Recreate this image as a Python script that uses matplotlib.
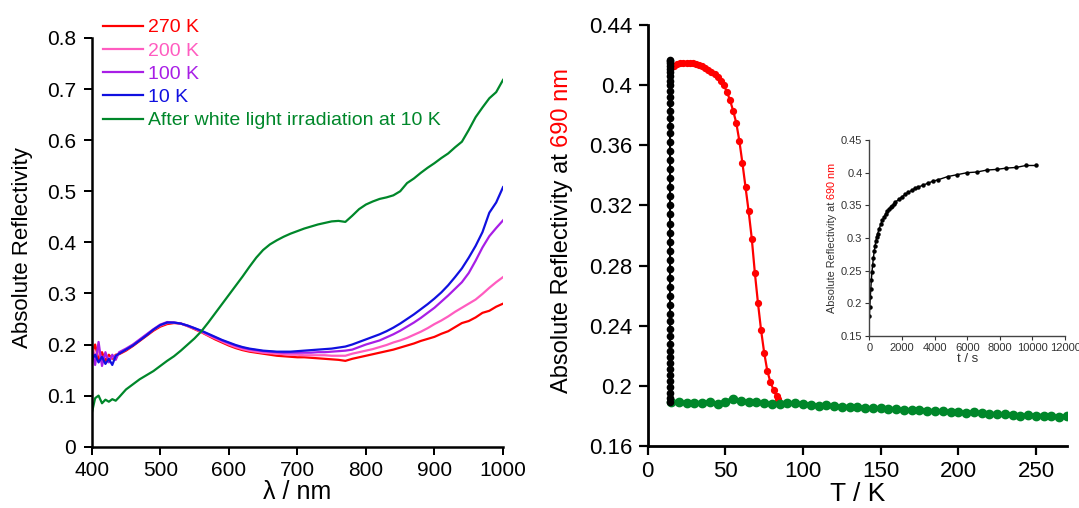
import numpy as np
import matplotlib
matplotlib.use("Agg")
import matplotlib.pyplot as plt
from matplotlib.ticker import FuncFormatter, MultipleLocator

# --- left panel: reflectivity spectra ---
wavelength = [400, 405, 410, 415, 420, 425, 430, 435, 440,
              450, 460, 470, 480, 490, 500, 510, 520, 530, 540,
              550, 560, 570, 580, 590, 600, 610, 620, 630, 640,
              650, 660, 670, 680, 690, 700, 710, 720, 730, 740,
              750, 760, 770, 780, 790, 800, 810, 820, 830, 840,
              850, 860, 870, 880, 890, 900, 910, 920, 930, 940,
              950, 960, 970, 980, 990, 1000]

r_270K = [0.180, 0.200, 0.170, 0.185, 0.168, 0.180, 0.172, 0.180, 0.181,
          0.188, 0.197, 0.207, 0.217, 0.227, 0.235, 0.240, 0.242, 0.241, 0.236,
          0.230, 0.224, 0.217, 0.210, 0.204, 0.198, 0.193, 0.189, 0.186, 0.184,
          0.182, 0.180, 0.178, 0.177, 0.176, 0.175, 0.175, 0.174, 0.173, 0.172,
          0.171, 0.170, 0.168, 0.172, 0.175, 0.178, 0.181, 0.184, 0.187, 0.190,
          0.194, 0.198, 0.202, 0.207, 0.211, 0.215, 0.221, 0.226, 0.234, 0.242,
          0.246, 0.253, 0.262, 0.266, 0.274, 0.280]

r_200K = [0.200, 0.175, 0.190, 0.165, 0.180, 0.172, 0.175, 0.178, 0.183,
          0.190, 0.199, 0.209, 0.219, 0.229, 0.237, 0.242, 0.243, 0.241, 0.236,
          0.231, 0.225, 0.218, 0.212, 0.206, 0.200, 0.195, 0.191, 0.188, 0.186,
          0.184, 0.183, 0.182, 0.181, 0.180, 0.180, 0.179, 0.179, 0.179, 0.179,
          0.178, 0.178, 0.178, 0.182, 0.185, 0.188, 0.191, 0.195, 0.199, 0.204,
          0.208, 0.213, 0.219, 0.225, 0.232, 0.240, 0.247, 0.255, 0.264, 0.272,
          0.280, 0.288, 0.299, 0.311, 0.322, 0.332]

r_100K = [0.190, 0.160, 0.205, 0.158, 0.185, 0.165, 0.180, 0.170, 0.185,
          0.192, 0.200, 0.210, 0.220, 0.230, 0.239, 0.244, 0.243, 0.241, 0.237,
          0.232, 0.226, 0.220, 0.214, 0.208, 0.203, 0.198, 0.194, 0.191, 0.189,
          0.187, 0.186, 0.185, 0.184, 0.184, 0.184, 0.184, 0.184, 0.185, 0.185,
          0.186, 0.187, 0.188, 0.190, 0.195, 0.200, 0.204, 0.208, 0.214, 0.220,
          0.227, 0.235, 0.243, 0.252, 0.262, 0.272, 0.284, 0.296, 0.309, 0.322,
          0.340, 0.364, 0.390, 0.412, 0.428, 0.443]

r_10K = [0.170, 0.180, 0.165, 0.176, 0.162, 0.172, 0.160, 0.178, 0.182,
         0.190, 0.198, 0.208, 0.218, 0.229, 0.238, 0.243, 0.243, 0.241, 0.237,
         0.232, 0.227, 0.221, 0.215, 0.209, 0.204, 0.199, 0.195, 0.192, 0.190,
         0.188, 0.187, 0.186, 0.186, 0.186, 0.187, 0.188, 0.189, 0.190, 0.191,
         0.192, 0.194, 0.196, 0.200, 0.205, 0.210, 0.215, 0.220, 0.226, 0.233,
         0.241, 0.250, 0.259, 0.269, 0.279, 0.290, 0.302, 0.316, 0.332, 0.349,
         0.370, 0.393, 0.420, 0.458, 0.478, 0.508]

r_irradiated = [0.065, 0.095, 0.100, 0.085, 0.092, 0.088, 0.093, 0.090, 0.097,
                0.112, 0.122, 0.132, 0.140, 0.148, 0.158, 0.168, 0.177, 0.188, 0.200,
                0.212, 0.226, 0.243, 0.261, 0.279, 0.297, 0.315, 0.333, 0.352, 0.370,
                0.385, 0.396, 0.404, 0.411, 0.417, 0.422, 0.427, 0.431, 0.435, 0.438,
                0.441, 0.442, 0.440, 0.452, 0.465, 0.474, 0.480, 0.485, 0.488, 0.492,
                0.500, 0.516, 0.525, 0.536, 0.546, 0.555, 0.565, 0.574, 0.586, 0.597,
                0.620, 0.645, 0.664, 0.682, 0.694, 0.718]

spectra_labels = ["270 K", "200 K", "100 K", "10 K",
                  "After white light irradiation at 10 K"]
spectra_colors = ["#ff0000", "#ff5cc0", "#a81ee6", "#1010e0", "#00872a"]

# --- right panel: R(690 nm) vs T ---
irr_T = 14.5
irr_R = [0.189, 0.192, 0.195, 0.199, 0.203, 0.207, 0.211, 0.215, 0.219,
         0.223, 0.228, 0.233, 0.238, 0.243, 0.248, 0.254, 0.260, 0.266,
         0.272, 0.278, 0.284, 0.290, 0.296, 0.302, 0.308, 0.314, 0.320,
         0.326, 0.332, 0.338, 0.344, 0.350, 0.356, 0.362, 0.368, 0.373,
         0.378, 0.383, 0.388, 0.392, 0.396, 0.400, 0.403, 0.406, 0.409,
         0.411, 0.413, 0.415, 0.416, 0.417]

heat_T = [15, 17, 19, 21, 23, 25, 27, 29, 31, 33, 35, 37, 39, 41, 43, 45,
          47, 49, 51, 53, 55, 57, 59, 61, 63, 65, 67, 69, 71, 73, 75, 77,
          79, 81, 83, 84]
heat_R = [0.412, 0.413, 0.414, 0.4145, 0.415, 0.415, 0.4148, 0.4145, 0.414,
          0.4135, 0.413, 0.4115, 0.410, 0.409, 0.4075, 0.4055, 0.403, 0.400,
          0.3955, 0.390, 0.383, 0.375, 0.363, 0.348, 0.332, 0.316, 0.298,
          0.275, 0.255, 0.237, 0.222, 0.210, 0.2025, 0.1975, 0.193, 0.191]

relax_T = [15, 20, 25, 30, 35, 40, 45, 50, 55, 60, 65, 70, 75, 80, 85, 90,
           95, 100, 105, 110, 115, 120, 125, 130, 135, 140, 145, 150, 155,
           160, 165, 170, 175, 180, 185, 190, 195, 200, 205, 210, 215, 220,
           225, 230, 235, 240, 245, 250, 255, 260, 265, 270]
relax_R = [0.1895, 0.1890, 0.1888, 0.1885, 0.1888, 0.1893, 0.1880, 0.1895,
           0.1912, 0.1898, 0.1893, 0.1890, 0.1885, 0.1880, 0.1878, 0.1888,
           0.1883, 0.1880, 0.1875, 0.1868, 0.1870, 0.1865, 0.1862, 0.1860,
           0.1858, 0.1855, 0.1850, 0.1852, 0.1848, 0.1845, 0.1838, 0.1840,
           0.1842, 0.1835, 0.1832, 0.1830, 0.1828, 0.1825, 0.1822, 0.1825,
           0.1818, 0.1815, 0.1812, 0.1810, 0.1808, 0.1800, 0.1805, 0.1802,
           0.1800, 0.1798, 0.1795, 0.1797]

# --- inset: R(690 nm) vs irradiation time ---
inset_t = [0, 30, 60, 90, 120, 160, 200, 250, 300, 350, 400, 450, 500, 600,
           700, 800, 900, 1000, 1100, 1200, 1300, 1400, 1500, 1600, 1800,
           2000, 2200, 2400, 2600, 2800, 3000, 3300, 3600, 3900, 4200, 4800,
           5400, 6000, 6600, 7200, 7800, 8400, 9000, 9600, 10200]
inset_R = [0.180, 0.195, 0.210, 0.222, 0.235, 0.248, 0.258, 0.270, 0.280,
           0.288, 0.295, 0.301, 0.306, 0.314, 0.321, 0.327, 0.332, 0.337,
           0.341, 0.344, 0.347, 0.349, 0.352, 0.355, 0.359, 0.363, 0.367,
           0.370, 0.373, 0.376, 0.378, 0.381, 0.384, 0.387, 0.389, 0.394,
           0.397, 0.400, 0.401, 0.404, 0.405, 0.407, 0.408, 0.411, 0.411]

FONT = ["Liberation Sans", "DejaVu Sans"]
fmt_g = FuncFormatter(lambda v, _: f"{v:g}")


def style_axes(ax, lw, ticklen, pad, size):
    for side in ("top", "right"):
        ax.spines[side].set_visible(False)
    for side in ("left", "bottom"):
        ax.spines[side].set_linewidth(lw)
    ax.tick_params(direction="out", length=ticklen, width=lw * 0.8,
                   pad=pad, labelsize=size)


def main():
    plt.rcParams["font.family"] = FONT
    fig = plt.figure(figsize=(10.79, 5.08), dpi=100)

    # left panel
    ax1 = fig.add_axes([0.0850, 0.1207, 0.3812, 0.8045])
    series = [r_270K, r_200K, r_100K, r_10K, r_irradiated]
    handles = []
    for vals, lab, col in zip(series, spectra_labels, spectra_colors):
        h, = ax1.plot(wavelength, vals, color=col, lw=1.6, label=lab)
        handles.append(h)
    ax1.set_xlim(400, 1000)
    ax1.set_ylim(0, 0.8)
    ax1.xaxis.set_major_locator(MultipleLocator(100))
    ax1.yaxis.set_major_locator(MultipleLocator(0.1))
    ax1.yaxis.set_major_formatter(fmt_g)
    style_axes(ax1, 1.8, 5.8, 4.5, 15)
    ax1.tick_params(axis="y", pad=5.5)
    ax1.set_xlabel("λ / nm", fontsize=18, labelpad=0)
    fig.text(22.5 / 1079, 1 - 247.5 / 508, "Absolute Reflectivity",
             rotation=90, ha="center", va="center", fontsize=16)
    ax1.legend(handles=handles, loc="upper left",
               bbox_to_anchor=(0.0955, 0.963), bbox_transform=fig.transFigure,
               frameon=False, fontsize=14, handlelength=2.05,
               handletextpad=0.25, labelspacing=0.29, borderpad=0,
               borderaxespad=0, labelcolor="linecolor")

    # right panel
    ax2 = fig.add_axes([0.6003, 0.1220, 0.3886, 0.8287])
    ax2.plot(np.full(len(irr_R), irr_T), irr_R, "-o", color="black",
             ms=4.5, lw=1.5, zorder=3)
    ax2.plot(heat_T, heat_R, "-o", color="#ff0000", ms=4.2, lw=1.6, zorder=2)
    ax2.plot(relax_T, relax_R, "-o", color="#00872a", ms=6, lw=3, zorder=2)
    ax2.set_xlim(0, 270)
    ax2.set_ylim(0.16, 0.44)
    ax2.xaxis.set_major_locator(MultipleLocator(50))
    ax2.yaxis.set_major_locator(MultipleLocator(0.04))
    ax2.yaxis.set_major_formatter(fmt_g)
    style_axes(ax2, 2.0, 6.2, 4.8, 16)
    ax2.set_xlabel("T / K", fontsize=19, labelpad=0)

    # two-colour y label
    t1 = fig.text(562 / 1079, 1 - 393 / 508, "Absolute Reflectivity at",
                  rotation=90, ha="center", va="bottom", fontsize=17)
    fig.canvas.draw()
    bb = t1.get_window_extent()
    fig.text(562 / 1079, (bb.y1 + 6) / fig.bbox.height, "690 nm",
             rotation=90, ha="center", va="bottom", fontsize=17,
             color="#ff0000")

    # inset
    ax3 = fig.add_axes([0.8057, 0.3386, 0.1814, 0.3858])
    ax3.plot(inset_t, inset_R, "-o", color="black", ms=2.2, lw=1.0)
    ax3.set_xlim(0, 12000)
    ax3.set_ylim(0.15, 0.45)
    ax3.xaxis.set_major_locator(MultipleLocator(2000))
    ax3.yaxis.set_major_locator(MultipleLocator(0.05))
    ax3.yaxis.set_major_formatter(fmt_g)
    for side in ("top", "right"):
        ax3.spines[side].set_visible(False)
    for side in ("left", "bottom"):
        ax3.spines[side].set_linewidth(1.0)
        ax3.spines[side].set_color("#444444")
    ax3.tick_params(direction="out", length=3, width=0.8, pad=2,
                    labelsize=8, colors="#333333")
    ax3.set_xlabel("t / s", fontsize=9.5, color="#333333", labelpad=0)
    s1 = fig.text(832 / 1079, 1 - 313 / 508, "Absolute Reflectivity at",
                  rotation=90, ha="center", va="bottom", fontsize=7.8,
                  color="#333333")
    fig.canvas.draw()
    bb = s1.get_window_extent()
    fig.text(832 / 1079, (bb.y1 + 3) / fig.bbox.height, "690 nm",
             rotation=90, ha="center", va="bottom", fontsize=7.8,
             color="#ff0000")

    fig.savefig("out.png", dpi=100)


if __name__ == "__main__":
    main()
